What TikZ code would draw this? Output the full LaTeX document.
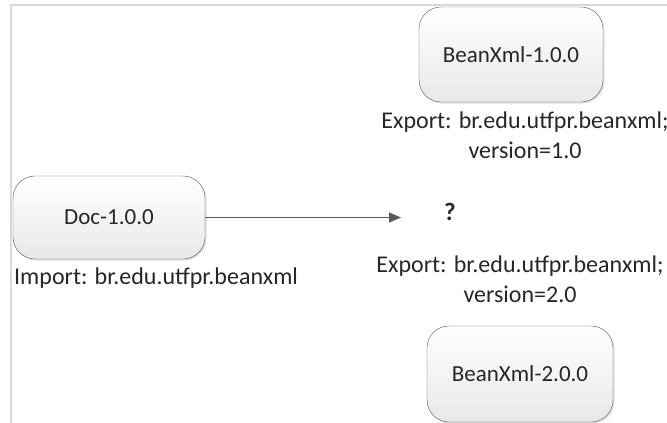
\documentclass[tikz,border=0pt]{standalone}
\usepackage{fontspec}
\setmainfont{Carlito}
\usetikzlibrary{arrows.meta}
\usetikzlibrary{shadows}
\definecolor{txt}{HTML}{262626}
\definecolor{frameline}{HTML}{D9D9D9}
\definecolor{boxline}{HTML}{5A5A5A}
\tikzset{
	bundle/.style={draw=boxline,rounded corners=22pt,top color=white,bottom color=black!9,
		drop shadow={shadow xshift=1.5pt,shadow yshift=-1.5pt,opacity=0.25},
		text=txt,font=\fontsize{23}{27}\selectfont},
	label text/.style={text=txt,font=\fontsize{24}{30}\selectfont,align=center,inner sep=0pt},
	edge/.style={-{Triangle[length=12pt,width=10pt]},draw=boxline,line width=1.2pt}
}
\begin{document}
\begin{tikzpicture}[x=1pt,y=-1pt]
		\useasboundingbox (0,0) rectangle (667,423);
		\draw[frameline,line width=2pt] (11,423) -- (11,5) -- (667,5);
		
		\node[bundle,minimum width=192pt,minimum height=83pt] (doc) at (109,217.5) {Doc-1.0.0};
		\node[bundle,minimum width=184pt,minimum height=95pt] (bean1) at (511,54.5) {BeanXml-1.0.0};
		\node[bundle,minimum width=186pt,minimum height=96pt] (bean2) at (520,374) {BeanXml-2.0.0};
		
		\node[label text] (exp1) at (525,135) {Export: br.edu.utfpr.beanxml;\\version=1.0};
		\node[label text] (exp2) at (520,279) {Export: br.edu.utfpr.beanxml;\\version=2.0};
		\node[label text,anchor=west] (imp) at (14,278) {Import: br.edu.utfpr.beanxml};
		\node[label text,font=\fontsize{25}{30}\selectfont\bfseries] (ask) at (450,212) {?};
		
		\coordinate (tip) at (401,217.5);
		\draw[edge] (doc) -- (tip);
\end{tikzpicture}
\end{document}
